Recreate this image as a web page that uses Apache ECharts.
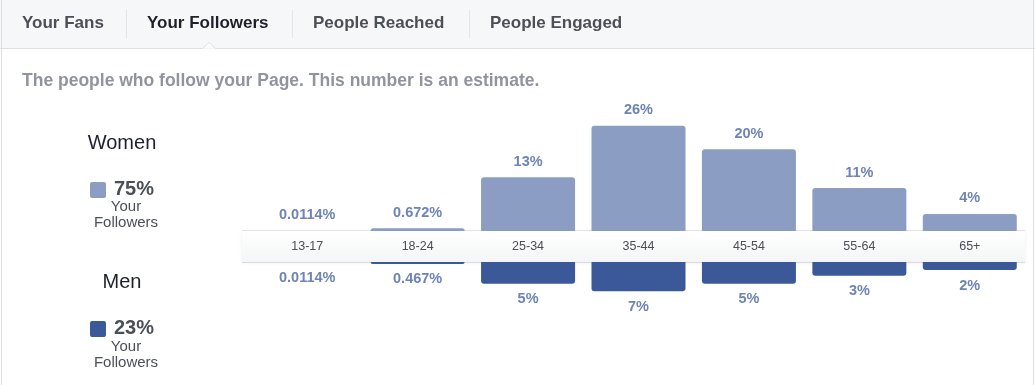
<!DOCTYPE html>
<html>
<head>
<meta charset="utf-8">
<script src="https://cdn.jsdelivr.net/npm/echarts@6/dist/echarts.min.js"></script>
<style>
html,body{margin:0;padding:0;background:#fff;}
#chart{width:1035px;height:385px;}
</style>
</head>
<body>
<div id="chart"></div>
<script>
const categories = ['13-17','18-24','25-34','35-44','45-54','55-64','65+'];
const womenValues = [0.0114, 0.672, 13.3, 26, 20.2, 10.6, 4.2];
const menValues = [0.0114, 0.467, 5.4, 7.2, 5.4, 3.4, 2.0];
const womenLabels = ['0.0114%','0.672%','13%','26%','20%','11%','4%'];
const menLabels = ['0.0114%','0.467%','5%','7%','5%','3%','2%'];
const tabs = ['Your Fans','Your Followers','People Reached','People Engaged'];
const womenShare = '75%';
const menShare = '23%';

const FONT = '"Liberation Sans", Arial, Helvetica, sans-serif';
const WOMEN = '#8b9dc3';
const MEN = '#3b5998';
const LABEL = '#6d84b4';

const chart = echarts.init(document.getElementById('chart'));

const tabX = [22, 147, 313, 490];
const graphics = [
  {type:'rect', shape:{x:0,y:0,width:1035,height:48}, style:{fill:'#f6f7f9'}, z:0},
  {type:'line', shape:{x1:0,y1:48.5,x2:1035,y2:48.5}, style:{stroke:'#dddfe2',lineWidth:1}, z:1},
  {type:'polygon', shape:{points:[[202,49],[209,42.5],[216,49]]}, style:{fill:'#fff',stroke:'#dddfe2',lineWidth:1}, z:2},
  {type:'rect', shape:{x:202.5,y:48.6,width:13,height:2}, style:{fill:'#fff'}, z:3},
  {type:'line', shape:{x1:1.5,y1:0,x2:1.5,y2:385}, style:{stroke:'#dddfe2',lineWidth:1}, z:1},
  {type:'line', shape:{x1:1033.5,y1:0,x2:1033.5,y2:385}, style:{stroke:'#dddfe2',lineWidth:1}, z:1},
  {type:'line', shape:{x1:126.5,y1:10,x2:126.5,y2:38}, style:{stroke:'#e3e4e7',lineWidth:1}, z:1},
  {type:'line', shape:{x1:292.5,y1:10,x2:292.5,y2:38}, style:{stroke:'#e3e4e7',lineWidth:1}, z:1},
  {type:'line', shape:{x1:469.5,y1:10,x2:469.5,y2:38}, style:{stroke:'#e3e4e7',lineWidth:1}, z:1},
  {type:'text', x:22, y:81, style:{text:'The people who follow your Page. This number is an estimate.', font:'bold 17.5px '+FONT, fill:'#90949c', verticalAlign:'middle'}, z:1},
  // band
  {type:'rect', shape:{x:242,y:231,width:783,height:31}, style:{fill:new echarts.graphic.LinearGradient(0,0,0,1,[{offset:0,color:'#ffffff'},{offset:1,color:'#f4f5f6'}]), shadowBlur:3, shadowColor:'rgba(0,0,0,0.07)', shadowOffsetY:1}, z:0},
  {type:'line', shape:{x1:242,y1:230.5,x2:1025,y2:230.5}, style:{stroke:'#e1e3e6',lineWidth:1}, z:1},
  {type:'line', shape:{x1:242,y1:262.5,x2:1025,y2:262.5}, style:{stroke:'#d8dadd',lineWidth:1}, z:1},
  // legend women
  {type:'text', x:122, y:143, style:{text:'Women', font:'20px '+FONT, fill:'#1d2129', align:'center', verticalAlign:'middle'}, z:1},
  {type:'rect', shape:{x:90,y:182,width:16,height:16,r:2}, style:{fill:WOMEN}, z:1},
  {type:'text', x:114, y:189, style:{text:womenShare, font:'bold 20px '+FONT, fill:'#4b4f56', verticalAlign:'middle'}, z:1},
  {type:'text', x:126, y:207, style:{text:'Your', font:'15px '+FONT, fill:'#4b4f56', align:'center', verticalAlign:'middle'}, z:1},
  {type:'text', x:126, y:223, style:{text:'Followers', font:'15px '+FONT, fill:'#4b4f56', align:'center', verticalAlign:'middle'}, z:1},
  // legend men
  {type:'text', x:122, y:282, style:{text:'Men', font:'20px '+FONT, fill:'#1d2129', align:'center', verticalAlign:'middle'}, z:1},
  {type:'rect', shape:{x:90,y:321,width:16,height:16,r:2}, style:{fill:MEN}, z:1},
  {type:'text', x:114, y:328, style:{text:menShare, font:'bold 20px '+FONT, fill:'#4b4f56', verticalAlign:'middle'}, z:1},
  {type:'text', x:126, y:347, style:{text:'Your', font:'15px '+FONT, fill:'#4b4f56', align:'center', verticalAlign:'middle'}, z:1},
  {type:'text', x:126, y:363, style:{text:'Followers', font:'15px '+FONT, fill:'#4b4f56', align:'center', verticalAlign:'middle'}, z:1}
];
tabs.forEach((t,i)=>{
  graphics.push({type:'text', x:tabX[i], y:23, style:{text:t, font:'bold 17px '+FONT, fill: i===1 ? '#1d2129' : '#4b4f56', verticalAlign:'middle'}, z:2});
});

const option = {
  backgroundColor:'#fff',
  animation:false,
  graphic:{elements:graphics},
  grid:[
    {left:252, right:10, top:109.5, bottom:154},
    {left:252, right:10, top:262, bottom:82.5}
  ],
  xAxis:[
    {type:'category', gridIndex:0, data:categories, z:10,
     axisLine:{show:false}, axisTick:{show:false},
     axisLabel:{margin:15.5, verticalAlign:'middle', fontSize:12.5, color:'#4b4f56', fontFamily:FONT}},
    {type:'category', gridIndex:1, data:categories, show:false}
  ],
  yAxis:[
    {type:'value', gridIndex:0, min:0, max:30, show:false, splitLine:{show:false}},
    {type:'value', gridIndex:1, min:0, max:10, inverse:true, show:false, splitLine:{show:false}}
  ],
  series:[
    {type:'bar', name:'Women', xAxisIndex:0, yAxisIndex:0, data:womenValues, barWidth:94,
     itemStyle:{color:WOMEN, borderRadius:[3,3,0,0]},
     label:{show:true, position:'top', distance:8, color:LABEL, fontSize:14.5, fontWeight:'bold', fontFamily:FONT,
       formatter:p=>womenLabels[p.dataIndex]}},
    {type:'bar', name:'Men', xAxisIndex:1, yAxisIndex:1, data:menValues, barWidth:94,
     itemStyle:{color:MEN, borderRadius:[0,0,3,3]},
     label:{show:true, position:'bottom', distance:8, color:LABEL, fontSize:14.5, fontWeight:'bold', fontFamily:FONT,
       formatter:p=>menLabels[p.dataIndex]}}
  ]
};
chart.setOption(option);
</script>
</body>
</html>
